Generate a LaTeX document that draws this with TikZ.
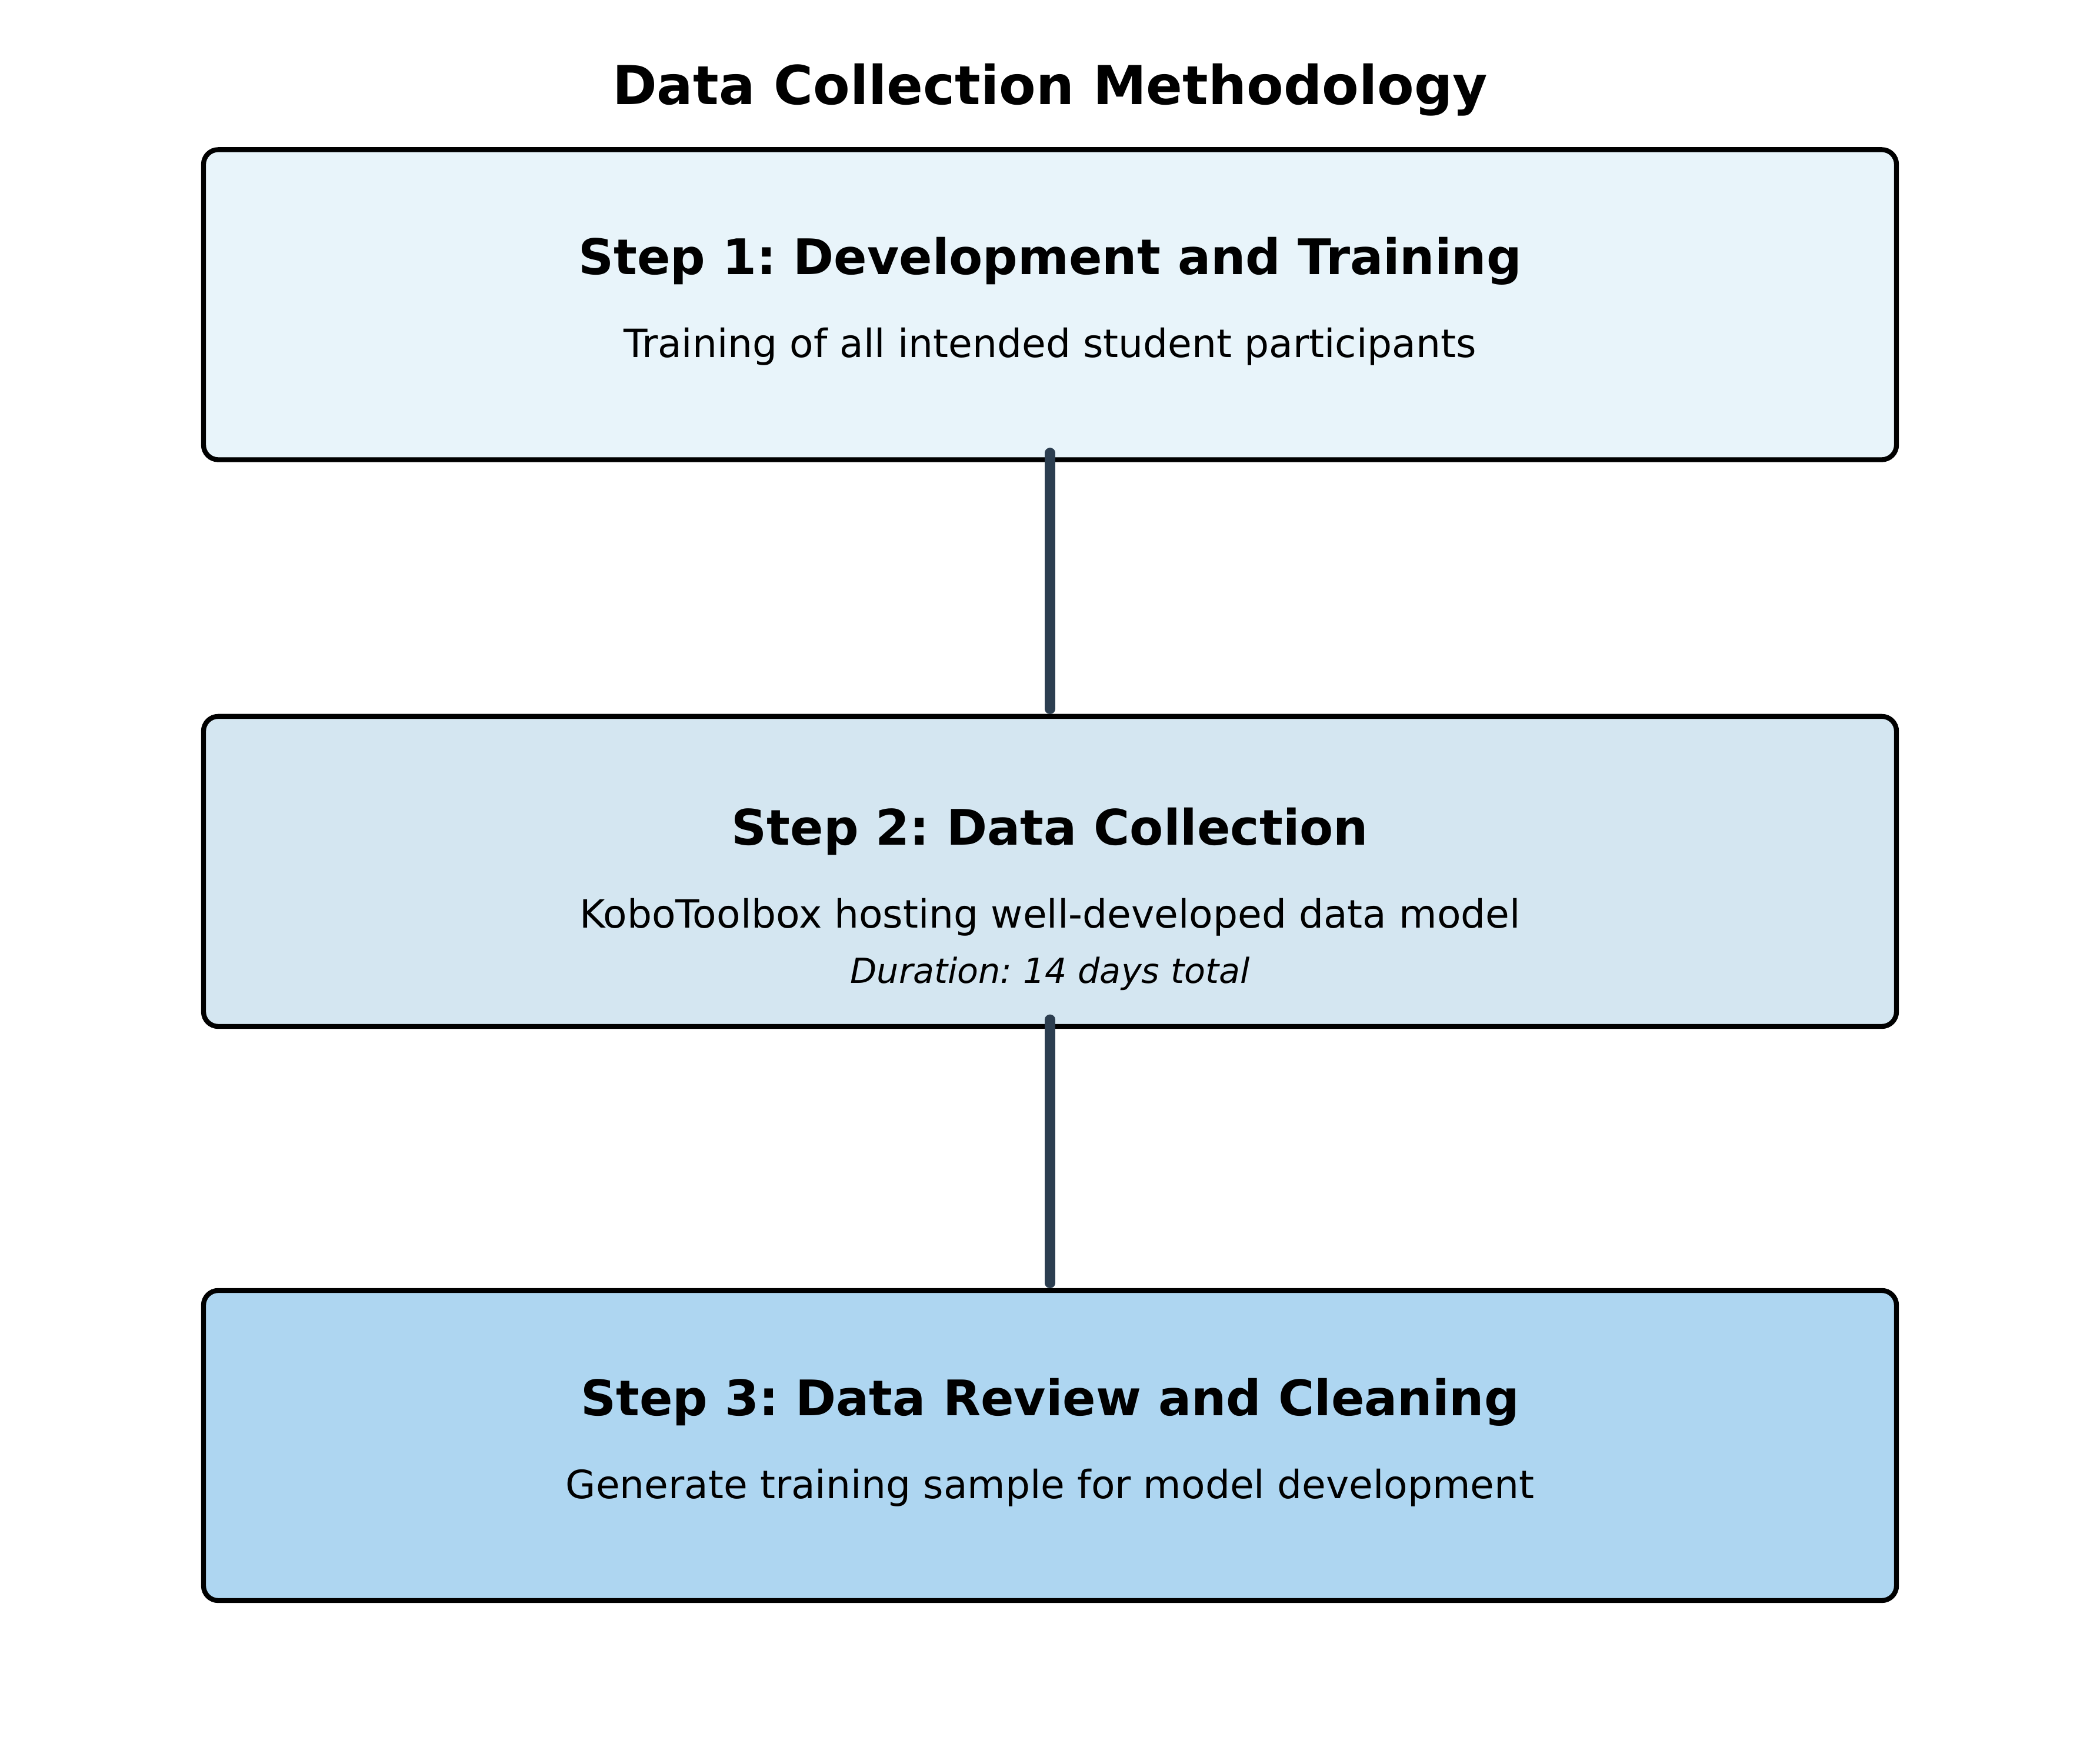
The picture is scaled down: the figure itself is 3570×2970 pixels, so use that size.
\documentclass[tikz,border=0pt]{standalone}
\usepackage{fontspec}
\setmainfont{DejaVu Sans}
\usepackage{tikz}
\frenchspacing

\definecolor{fillone}{HTML}{E8F4FA}
\definecolor{filltwo}{HTML}{D4E6F1}
\definecolor{fillthree}{HTML}{AED6F1}
\definecolor{linkcolor}{HTML}{2C3E50}

\begin{document}
\begin{tikzpicture}[x=0.24bp, y=0.24bp,
    stepbox/.style={draw=black, line width=2bp, rounded corners=6bp,
      minimum width=690.7bp, minimum height=126.5bp, inner sep=0pt},
    steptitle/.style={anchor=base, inner sep=0pt, font=\fontsize{20bp}{24bp}\selectfont\bfseries},
    stepdesc/.style={anchor=base, inner sep=0pt, font=\fontsize{15.9bp}{19bp}\selectfont},
    stepnote/.style={anchor=base, inner sep=0pt, font=\fontsize{14.1bp}{17bp}\selectfont\itshape},
    link/.style={draw=linkcolor, line width=4.1bp, line cap=round, shorten >=2bp}]
    \useasboundingbox (0, 0) rectangle (3570, 2970);

    \node [anchor=base, inner sep=0pt, font=\fontsize{21.9bp}{26bp}\selectfont\bfseries] (title) at (1785, 2792) {Data Collection Methodology};

    % the three steps
    \node [stepbox, fill=fillone] (step1) at (1785, 2452) {};
    \node [stepbox, fill=filltwo] (step2) at (1785, 1488.5) {};
    \node [stepbox, fill=fillthree] (step3) at (1785, 512.5) {};

    \node [steptitle] (step1title) at (1785, 2503) {Step 1: Development and Training};
    \node [stepdesc] (step1desc) at (1785, 2362) {Training of all intended student participants};

    \node [steptitle] (step2title) at (1785, 1533) {Step 2: Data Collection};
    \node [stepdesc] (step2desc) at (1785, 1392) {KoboToolbox hosting well-developed data model};
    \node [stepnote] (step2note) at (1785, 1298) {Duration: 14 days total};

    \node [steptitle] (step3title) at (1785, 563.5) {Step 3: Data Review and Cleaning};
    \node [stepdesc] (step3desc) at (1785, 422.5) {Generate training sample for model development};

    % connectors
    \draw [link] ([yshift=3.84bp]step1.south) -- (step2.north);
    \draw [link] ([yshift=3.84bp]step2.south) -- (step3.north);
\end{tikzpicture}
\end{document}
